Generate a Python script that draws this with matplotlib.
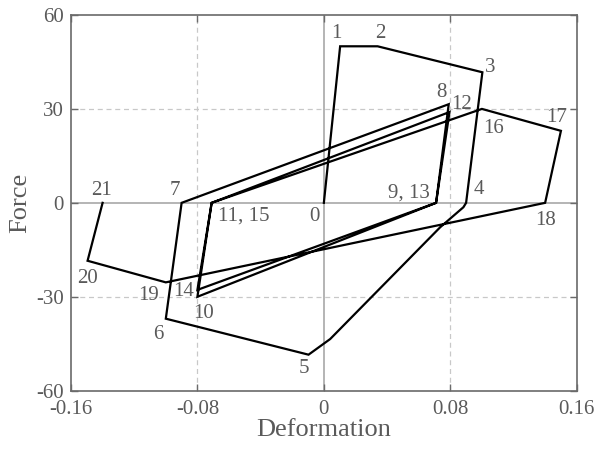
import matplotlib
matplotlib.use("Agg")
import matplotlib.pyplot as plt

plt.rcParams['font.family'] = ['Liberation Serif', 'DejaVu Serif']
plt.rcParams['axes.unicode_minus'] = False

# loading path vertices 0..21 (deformation, force)
deformation = [0.0, 0.0103, 0.034, 0.1003, 0.090, 0.0883, 0.0736, 0.004, -0.0097,
               -0.100, -0.090, 0.079, 0.071, -0.080, -0.071, 0.0795, 0.071,
               -0.080, -0.071, 0.100, 0.150, 0.140, -0.100, -0.1495, -0.140]
force = [0.0, 50.0, 50.0, 41.7, 0.0, -1.4, -7.8, -43.5, -48.5,
         -37.0, 0.0, 31.5, 0.0, -30.0, 0.0, 29.0, 0.0,
         -27.8, 0.0, 30.0, 23.0, 0.0, -25.4, -18.5, 0.0]

point_labels = ["0", "1", "2", "3", "4", "5", "6", "7", "8", "9, 13", "10",
                "11, 15", "12", "14", "16", "17", "18", "19", "20", "21"]
label_x = [-0.006, 0.0078, 0.036, 0.105, 0.0978, -0.0125, -0.1046, -0.094, 0.0746, 0.054,
           -0.076, -0.0509, 0.0873, -0.0888, 0.1073, 0.1474, 0.140, -0.111, -0.1495, -0.1404]
label_y = [-4.3, 54.0, 54.2, 43.3, 4.2, -53.0, -41.9, 3.9, 35.3, 3.1,
           -35.5, -4.1, 31.3, -28.2, 23.8, 27.2, -5.7, -29.6, -24.3, 3.9]

GREY = "#5a5a5a"

fig = plt.figure(figsize=(5.95, 4.5), dpi=100)
ax = fig.add_axes([0.1193, 0.1318, 0.85, 0.8349])

ax.set_xlim(-0.16, 0.16)
ax.set_ylim(-60, 60)
ax.set_xticks([-0.16, -0.08, 0, 0.08, 0.16])
ax.set_xticklabels(["-0.16", "-0.08", "0", "0.08", "0.16"])
ax.set_yticks([-60, -30, 0, 30, 60])

for v in (-0.08, 0.08):
    ax.axvline(v, color="#c8c8c8", ls=(0, (4, 3)), lw=0.9, zorder=0)
for v in (-30, 30):
    ax.axhline(v, color="#c8c8c8", ls=(0, (4, 3)), lw=0.9, zorder=0)
ax.axvline(0, color="#a8a8a8", lw=1.2, zorder=1)
ax.axhline(0, color="#a8a8a8", lw=1.2, zorder=1)

ax.plot(deformation, force, color="black", lw=1.6, zorder=3, solid_joinstyle="miter")

for t, x, y in zip(point_labels, label_x, label_y):
    ax.text(x, y, t, ha="center", va="center", fontsize=15, color=GREY, zorder=4)

for s in ax.spines.values():
    s.set_color("#6a6a6a")
    s.set_linewidth(1.2)
ax.tick_params(direction="in", top=True, right=True, length=5, width=1,
               colors="#6a6a6a", labelcolor=GREY, labelsize=15)
ax.tick_params(axis="x", pad=7)
ax.tick_params(axis="y", pad=5)
ax.set_xlabel("Deformation", fontsize=19, color=GREY, labelpad=0)
ax.set_ylabel("Force", fontsize=19, color=GREY, labelpad=4)

fig.savefig("out.png", dpi=100)
